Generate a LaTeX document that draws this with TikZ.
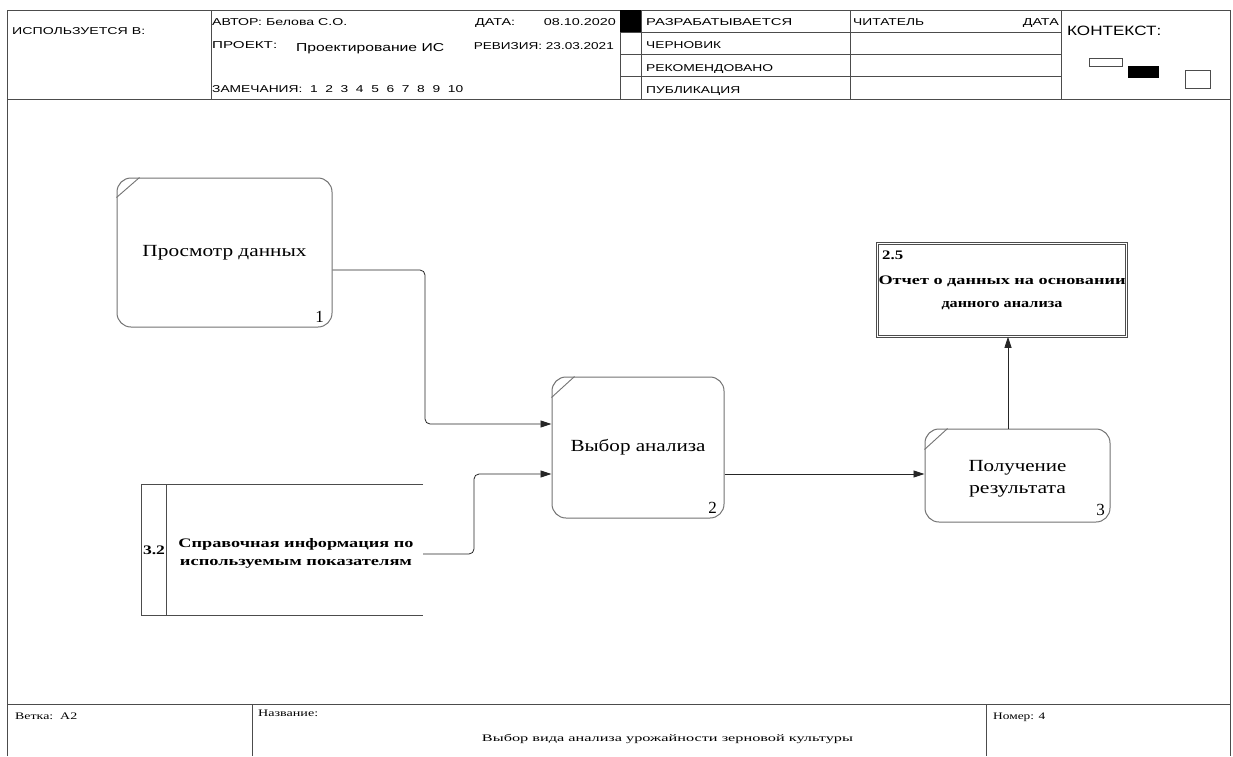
\documentclass[tikz,border=0pt]{standalone}
\usepackage{fontspec}
\setmainfont{Liberation Serif}
\newfontfamily\hdrfont{Liberation Sans}
\usetikzlibrary{arrows.meta}
\newcommand\W[2]{\resizebox{#1pt}{\height}{#2}}
\begin{document}
\begin{tikzpicture}[x=1pt,y=-1pt,
  frame/.style={draw=black!70, line width=0.9pt},
  thin/.style={draw=black!70, line width=0.7pt},
  proc/.style={draw=black!55, line width=1pt, rounded corners=14pt, inner sep=0pt, align=center,
    font=\fontsize{17}{21}\selectfont},
  ptext/.style={inner sep=0pt, align=center, font=\fontsize{17}{22}\selectfont},
  tick/.style={draw=black!55, line width=0.9pt},
  flow/.style={draw=black!85, line width=0.8pt, rounded corners=5pt, -{Triangle[length=11pt,width=7pt]}},
  hd/.style={font=\hdrfont\fontsize{10}{12}\selectfont, inner sep=0pt, anchor=base west},
  hde/.style={hd, anchor=base east},
  num/.style={font=\fontsize{17}{20}\selectfont, inner sep=0pt, anchor=base east},
  st/.style={font=\bfseries\fontsize{13}{18}\selectfont, inner sep=0pt, align=center},
  ft/.style={font=\fontsize{10}{12}\selectfont, inner sep=0pt, anchor=base west},
]
\useasboundingbox (0,0) rectangle (1233,756);
\fill[white] (0,0) rectangle (1233,756);

% ---- frame ----
\draw[frame] (7,756) -- (7,10) -- (1230,10) -- (1230,756);
\draw[frame] (7,99) -- (1230,99);
\draw[frame] (7,704) -- (1230,704);
\draw[thin] (211,10) -- (211,99);
\draw[thin] (620,10) -- (620,99);
\draw[thin] (641,10) -- (641,99);
\draw[thin] (850,10) -- (850,99);
\draw[thin] (1061,10) -- (1061,99);
\draw[thin] (620,32) -- (1061,32);
\draw[thin] (620,54) -- (1061,54);
\draw[thin] (620,76) -- (1061,76);
\fill[black] (620,10) rectangle (641,32);
\draw[thin] (252,704) -- (252,756);
\draw[thin] (986,704) -- (986,756);
% context boxes
\draw[thin] (1089,58) rectangle (1122,66);
\fill[black] (1128,66) rectangle (1159,78);
\draw[thin] (1185,70) rectangle (1210,88);

% ---- header text ----
\node[hd] (h1) at (12,34) {\W{133}{ИСПОЛЬЗУЕТСЯ В:}};
\node[hd] (h2) at (212,25) {\W{135}{АВТОР: Белова С.О.}};
\node[hd] (h3) at (475,25) {\W{40}{ДАТА:}};
\node[hde] (h4) at (616,25) {\W{72}{08.10.2020}};
\node[hd] (h5) at (212,48) {\W{65}{ПРОЕКТ:}};
\node[hd, font=\hdrfont\fontsize{11.5}{13}\selectfont] (h6) at (296,51) {\W{148}{Проектирование ИС}};
\node[hde] (h7) at (614,49) {\W{140}{РЕВИЗИЯ: 23.03.2021}};
\node[hd] (h8) at (212,92) {\W{251}{ЗАМЕЧАНИЯ:\ \ 1\ \ 2\ \ 3\ \ 4\ \ 5\ \ 6\ \ 7\ \ 8\ \ 9\ \ 10}};
\node[hd] (h9) at (646,25) {\W{146}{РАЗРАБАТЫВАЕТСЯ}};
\node[hd] (h10) at (646,48) {\W{75}{ЧЕРНОВИК}};
\node[hd] (h11) at (646,71) {\W{127}{РЕКОМЕНДОВАНО}};
\node[hd] (h12) at (646,93) {\W{94}{ПУБЛИКАЦИЯ}};
\node[hd] (h13) at (853,25) {\W{71}{ЧИТАТЕЛЬ}};
\node[hde] (h14) at (1059,25) {\W{36}{ДАТА}};
\node[hd, font=\hdrfont\fontsize{13.5}{15}\selectfont] (h15) at (1067,35) {\W{94}{КОНТЕКСТ:}};

% ---- processes ----
\node[proc, minimum width=215pt, minimum height=149pt] (p1) at (224.5,252.5) {\W{164}{Просмотр данных}};
\node[proc, minimum width=172pt, minimum height=141pt] (p2) at (638,447.5) {\W{135}{Выбор анализа}};
\node[proc, minimum width=185pt, minimum height=93pt] (p3) at (1017.5,475.5) {};
\node[ptext] (p3t) at (1017.5,479) {\W{98}{Получение}\\\W{97}{результата}};
\draw[tick] (p1.north west) ++(0,20) -- ++(23,-20);
\draw[tick] (p2.north west) ++(0,21) -- ++(23,-21);
\draw[tick] (p3.north west) ++(0,21) -- ++(23,-21);
\node[num] (n1) at (324,322) {1};
\node[num] (n2) at (717,513) {2};
\node[num] (n3) at (1105,515) {3};

% ---- data store 2.5 ----
\node[draw=black!70, double, double distance=1.6pt, line width=0.6pt,
      minimum width=249pt, minimum height=93pt, inner sep=0pt] (s25) at (1002,290) {};
\node[st, anchor=base west] (s25n) at (882,259) {\W{21}{2.5}};
\node[st, font=\bfseries\fontsize{13}{23}\selectfont] (s25t) at (1002,293) {\W{247}{Отчет о данных на основании}\\\W{121}{данного анализа}};

% ---- data store 3.2 ----
\node[minimum width=281pt, minimum height=130pt, inner sep=0pt] (s32) at (282.5,550) {};
\draw[thin] (s32.north east) -- (s32.north west) -- (s32.south west) -- (s32.south east);
\draw[thin] (166,485) -- (166,615);
\node[st] (s32n) at (154,550) {\W{22}{3.2}};
\node[st] (s32t) at (296,553) {\W{235}{Справочная информация по}\\\W{232}{используемым показателям}};

% ---- connectors ----
\draw[flow] ([yshift=-17.5pt]p1.east) -- (425,270) -- (425,424) -- ([yshift=23.5pt]p2.west);
\draw[flow] ([yshift=-4pt]s32.east) -- (474,554) -- (474,474) -- ([yshift=-26.5pt]p2.west);
\draw[flow] ([yshift=-26.5pt]p2.east) -- ([yshift=1.5pt]p3.west);
\draw[flow] ([xshift=-9.5pt]p3.north) -- ([xshift=6pt]s25.south);

% ---- footer ----
\node[ft] (f1) at (15,719) {\W{62}{Ветка:\ \ A2}};
\node[ft] (f2) at (258,716) {\W{60}{Название:}};
\node[ft, anchor=base] (f3) at (667.5,741) {\W{371}{Выбор вида анализа урожайности зерновой культуры}};
\node[ft] (f4) at (993,719) {\W{52}{Номер: 4}};
\end{tikzpicture}
\end{document}
